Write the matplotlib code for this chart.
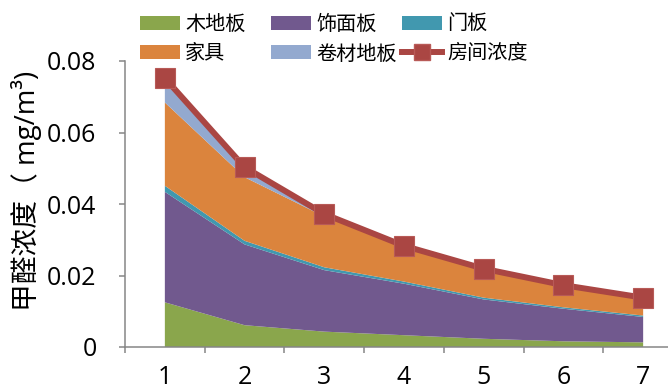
import matplotlib
matplotlib.use("Agg")
import matplotlib.pyplot as plt
from matplotlib.patches import Patch
from matplotlib.lines import Line2D

# ---- data ----
stages = [1, 2, 3, 4, 5, 6, 7]
wood_floor = [0.0125, 0.0061, 0.0043, 0.0033, 0.0023, 0.0016, 0.0013]     # 木地板
veneer = [0.0309, 0.0226, 0.0172, 0.0144, 0.0110, 0.0091, 0.0071]         # 饰面板
door = [0.0017, 0.0010, 0.0008, 0.0006, 0.0005, 0.0004, 0.0004]           # 门板
furniture = [0.0233, 0.0178, 0.0142, 0.0100, 0.0081, 0.0062, 0.0050]      # 家具
roll_floor = [0.0068, 0.0028, 0.0007, 0.0, 0.0, 0.0, 0.0]                # 卷材地板
room = [0.0752, 0.0503, 0.0372, 0.0283, 0.0219, 0.0173, 0.0138]          # 房间浓度

layer_names = ["木地板", "饰面板", "门板", "家具", "卷材地板"]
line_name = "房间浓度"
y_ticks = [0, 0.02, 0.04, 0.06, 0.08]
y_tick_labels = ["0", "0.02", "0.04", "0.06", "0.08"]
y_label = "甲醛浓度（ mg/m³)"

colors = ["#8aa64c", "#71598e", "#4198af", "#db843d", "#93a9cf"]
red = "#aa4643"

W, H = 668, 392
fig = plt.figure(figsize=(W / 100, H / 100), dpi=100)
latin_cjk = ["Open Sans", "Noto Sans CJK SC", "DejaVu Sans"]
cjk = ["Noto Sans CJK SC", "DejaVu Sans"]

left, right, top, bottom = 125, 683, 61, 347
ax = fig.add_axes([left / W, 1 - bottom / H, (right - left) / W, (bottom - top) / H])

ax.stackplot(stages, wood_floor, veneer, door, furniture, roll_floor,
             colors=colors, linewidth=0)
ax.plot(stages, room, color=red, lw=4.3, marker="s", ms=14,
        markerfacecolor=red, markeredgecolor="#b85a57", markeredgewidth=0.8,
        clip_on=False, zorder=5)

ax.set_xlim(0.5, 7.5)
ax.set_ylim(0, 0.08)

for s in ["top", "right"]:
    ax.spines[s].set_visible(False)
for s in ["left", "bottom"]:
    ax.spines[s].set_color("#868686")
    ax.spines[s].set_linewidth(1.1)

ax.set_yticks(y_ticks)
ax.set_yticklabels(y_tick_labels, family=latin_cjk, fontsize=18)
ax.tick_params(axis="y", direction="out", length=4.5, width=1.1, color="#868686", pad=16)

ax.set_xticks(stages)
ax.set_xticklabels([str(s) for s in stages], family=latin_cjk, fontsize=18)
ax.set_xticks([s + 0.5 for s in [0] + stages], minor=True)
ax.tick_params(axis="x", which="major", length=0, pad=13)
ax.tick_params(axis="x", which="minor", direction="out", length=4.5, width=1.1, color="#868686")

ax.set_ylabel(y_label, family=latin_cjk, fontsize=20, va="center")
ax.yaxis.set_label_coords(27 / W, (H - 191) / H, transform=fig.transFigure)

# legend: three columns placed manually
handles = [Patch(facecolor=c, edgecolor="none") for c in colors]
handles.append(Line2D([], [], color=red, lw=4.3, marker="s", ms=12,
                      markerfacecolor=red, markeredgecolor="#b85a57"))
labels = layer_names + [line_name]
col_items = [[0, 3], [1, 4], [2, 5]]
col_x = [140, 271, 402]
fs = 14.5
fpx = fs * 100 / 72
for xs, items in zip(col_x, col_items):
    fig.legend([handles[i] for i in items], [labels[i] for i in items],
               loc="upper left", bbox_to_anchor=(xs / W, 1 - 14 / H),
               bbox_transform=fig.transFigure, frameon=False,
               borderpad=0, borderaxespad=0, handlelength=40 / fpx,
               handleheight=14 / fpx, handletextpad=5 / fpx, labelspacing=0.42,
               prop={"family": cjk, "size": fs})

fig.savefig("out.png", dpi=100)
